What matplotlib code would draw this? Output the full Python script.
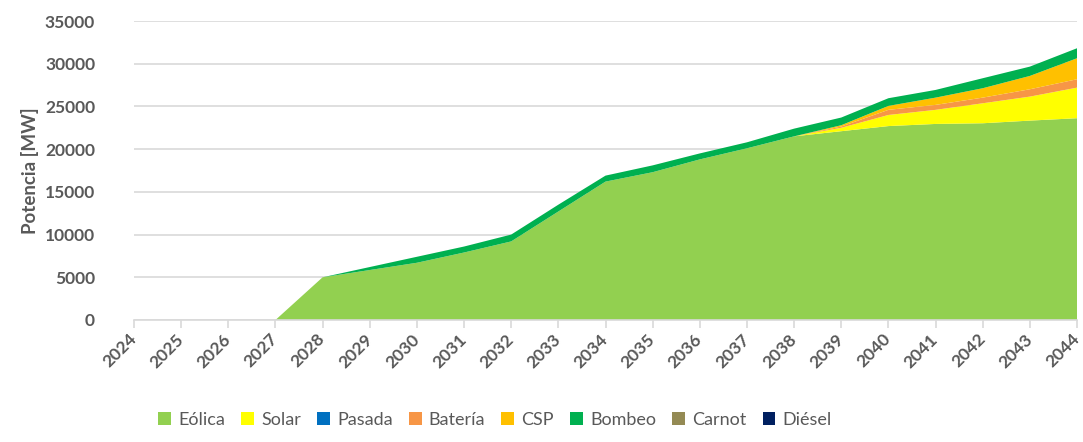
import matplotlib.pyplot as plt
from matplotlib.patches import Patch

# years on the x axis
years = list(range(2024, 2045))

# installed capacity per technology [MW]
eolica = [0, 0, 0, 0, 5000, 5850, 6700, 7900, 9200, 12700, 16200, 17300, 18800, 20100, 21500,
          22100, 22700, 22950, 23030, 23340, 23620]
solar = [0, 0, 0, 0, 0, 0, 0, 0, 0, 0, 0, 0, 0, 0, 0,
         400, 1300, 1650, 2340, 2810, 3580]
pasada = [0] * 21
bateria = [0, 0, 0, 0, 0, 0, 0, 0, 0, 0, 0, 0, 0, 0, 0,
           150, 600, 580, 660, 860, 980]
csp = [0, 0, 0, 0, 0, 0, 0, 0, 0, 0, 0, 0, 0, 0, 0,
       150, 460, 850, 1100, 1560, 2460]
bombeo = [0, 0, 0, 0, 0, 350, 700, 700, 800, 800, 700, 800, 700, 700, 900,
          900, 900, 900, 1170, 1090, 1170]
carnot = [0] * 21
diesel = [0] * 21

labels = ['Eólica', 'Solar', 'Pasada', 'Batería', 'CSP', 'Bombeo', 'Carnot', 'Diésel']
colors = ['#92D050', '#FFFF00', '#0070C0', '#F79646', '#FFC000', '#00B050', '#948A54', '#002060']

gray = '#595959'
plt.rcParams['font.family'] = ['Lato', 'DejaVu Sans']

fig = plt.figure(figsize=(10.83, 4.42), dpi=100)
ax = fig.add_axes([134 / 1083, 1 - 320 / 442, (1077 - 134) / 1083, (320 - 21) / 442])

ax.stackplot(years, eolica, solar, pasada, bateria, csp, bombeo, carnot, diesel,
             colors=colors, linewidth=0, zorder=2)

ax.set_xlim(2024, 2044)
ax.set_ylim(0, 35000)
ax.set_yticks(range(0, 35001, 5000))
ax.set_xticks(years)
ax.set_xticklabels([str(y) for y in years], rotation=45, ha='right', va='center',
                   rotation_mode='anchor')
ax.grid(axis='y', color='#D9D9D9', linewidth=1.2, zorder=0)
ax.set_axisbelow(True)

for s in ['top', 'right', 'left']:
    ax.spines[s].set_visible(False)
ax.spines['bottom'].set_color('#D9D9D9')
ax.spines['bottom'].set_linewidth(1.2)
ax.tick_params(axis='x', colors='#D9D9D9', length=6, width=1.2, labelcolor=gray, labelsize=12.5, pad=6)
ax.tick_params(axis='y', length=0, labelcolor=gray, labelsize=12.5, pad=28)
for t in ax.get_xticklabels() + ax.get_yticklabels():
    t.set_fontweight('bold')

ax.set_ylabel('Potencia [MW]', color=gray, fontsize=13.5, fontweight='bold', labelpad=4)

handles = [Patch(facecolor=c, edgecolor='none') for c in colors]
fig.legend(handles, labels, loc='lower center', bbox_to_anchor=(0.457, -0.005), ncol=8,
           frameon=False, fontsize=13, handlelength=0.7, handleheight=0.7,
           handletextpad=0.4, columnspacing=0.9, labelcolor=gray)

fig.savefig('out.png', dpi=100)
